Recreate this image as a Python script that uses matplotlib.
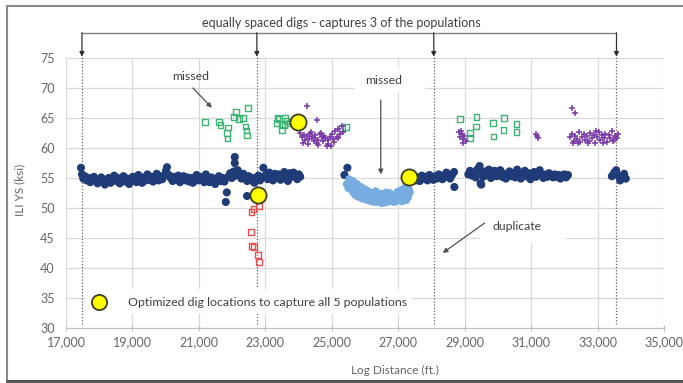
import matplotlib.pyplot as plt
from matplotlib.patches import Rectangle
from matplotlib.ticker import FuncFormatter

plt.rcParams['font.family'] = ['Lato', 'DejaVu Sans']

# dark blue population (main band)
dark_x = [17450, 17480, 17520, 17570, 17620, 17680, 17730, 17790, 17840, 17900,
          17950, 18010, 18060, 18120, 18170, 18230, 18280, 18340, 18400, 18450,
          18510, 18560, 18620, 18670, 18730, 18790, 18840, 18900, 18950, 19010,
          19060, 19120, 19180, 19230, 19290, 19340, 19400, 19450, 19510, 19570,
          19620, 19680, 19730, 19790, 19840, 19900, 19960, 20010, 20040, 20100,
          20150, 20210, 20260, 20320, 20380, 20430, 20490, 20540, 20600, 20650,
          20710, 20770, 20820, 20880, 20930, 20990, 21040, 21100, 21160, 21210,
          21270, 21320, 21380, 21430, 21490, 21550, 21600, 21660, 21710, 21770,
          21810, 21880, 21940, 21990, 22050, 22080, 22080, 22110, 22170, 22220,
          22280, 22340, 22390, 22450, 22450, 22500, 22560, 22620, 22670, 22730,
          22790, 22840, 22900, 22940, 23010, 23070, 23120, 23180, 23230, 23290,
          23350, 23400, 23460, 23510, 23570, 23620, 23680, 23740, 23790, 23850,
          23900, 23960, 24010, 24050, 21840]
dark_y = [56.7, 55.6, 54.9, 55.3, 54.6, 55.0, 54.3, 54.8, 55.2, 54.5,
          54.1, 54.7, 55.1, 54.4, 53.9, 54.6, 55.0, 54.2, 54.8, 55.4,
          54.5, 55.0, 54.1, 54.7, 55.3, 54.4, 54.9, 54.0, 54.6, 55.2,
          54.8, 54.3, 55.5, 54.9, 54.2, 55.1, 54.6, 55.6, 54.7, 55.2,
          54.4, 55.0, 55.7, 54.6, 55.3, 54.8, 55.4, 56.2, 56.8, 55.5,
          55.0, 54.5, 55.2, 54.7, 55.4, 54.3, 54.9, 55.3, 54.6, 55.1,
          54.4, 55.0, 54.2, 54.8, 55.5, 54.6, 55.2, 54.9, 54.3, 55.6,
          54.8, 54.3, 55.1, 54.6, 54.0, 54.7, 55.3, 54.5, 55.0, 54.4,
          51.0, 55.2, 55.8, 55.0, 56.1, 58.5, 57.5, 55.4, 56.3, 55.6,
          54.9, 55.7, 55.1, 52.0, 54.5, 55.3, 54.6, 55.0, 54.2, 54.7,
          55.4, 54.6, 55.1, 56.7, 55.5, 54.8, 55.9, 55.2, 54.6, 55.7,
          55.0, 55.6, 54.7, 55.3, 56.0, 55.1, 54.5, 55.8, 55.2, 55.9,
          55.3, 54.8, 55.6, 55.2, 52.6]

dark2_x = [27430, 27480, 27540, 27600, 27650, 27710, 27770, 27820, 27880, 27940,
           27990, 28050, 28110, 28160, 28220, 28280, 28330, 28390, 28450, 28500,
           28560, 28620, 28680, 28690, 29110, 29160, 29220, 29280, 29330, 29390,
           29450, 29500, 29560, 29620, 29670, 29730, 29790, 29840, 29900, 29960,
           30010, 30070, 30130, 30180, 30240, 30300, 30350, 30410, 30470, 30520,
           30580, 30640, 30690, 30750, 30810, 30860, 30920, 30980, 31030, 31090,
           31150, 31200, 31260, 31320, 31370, 31430, 31490, 31540, 31600, 31660,
           31710, 31770, 31830, 31880, 31940, 32000, 32050, 32110, 33430, 33500,
           33560, 33620, 33680, 33740, 33800, 33850, 29480, 29500, 25380, 25470]
dark2_y = [54.8, 55.3, 54.6, 55.1, 54.5, 55.4, 54.9, 55.2, 54.6, 55.5,
           55.0, 54.7, 55.3, 54.9, 55.6, 55.1, 54.8, 55.4, 55.9, 55.2,
           54.9, 55.5, 56.0, 53.5, 55.6, 56.2, 55.4, 55.9, 55.1, 56.5,
           57.0, 55.8, 55.2, 56.1, 55.5, 56.4, 55.0, 55.7, 56.2, 55.3,
           55.8, 56.3, 55.2, 55.7, 54.9, 55.6, 56.1, 55.3, 55.8, 55.1,
           56.4, 55.5, 54.9, 55.7, 56.2, 55.3, 55.8, 54.8, 55.4, 56.0,
           55.2, 55.7, 56.3, 55.5, 55.0, 55.6, 55.2, 55.8, 55.4, 55.1,
           55.6, 55.2, 55.5, 54.9, 55.4, 55.6, 55.1, 55.5, 55.3, 55.9,
           56.3, 55.4, 54.6, 55.2, 55.7, 54.9, 54.1, 53.9, 55.5, 56.7]

# light blue population
light_x = [25520, 25560, 25600, 25640, 25580, 25680, 25720, 25760, 25640, 25800,
           25840, 25700, 25880, 25920, 25960, 25780, 26000, 26040, 26080, 25900,
           26120, 26160, 26020, 26200, 26240, 26280, 26140, 26320, 26360, 26400,
           26260, 26440, 26480, 26520, 26380, 26560, 26600, 26640, 26500, 26680,
           26720, 26760, 26620, 26800, 26840, 26880, 26740, 26920, 26960, 27000,
           26860, 27040, 27080, 27120, 26980, 27160, 27200, 27240, 27100, 27280,
           27320, 27220, 27350, 27300, 25450, 25500]
light_y = [54.8, 54.2, 53.6, 54.5, 53.1, 53.9, 53.2, 54.0, 52.6, 53.4,
           52.8, 52.2, 53.5, 52.6, 53.2, 51.9, 52.4, 53.0, 52.1, 51.6,
           52.7, 51.9, 51.4, 52.5, 51.7, 52.3, 51.2, 52.8, 51.5, 52.1,
           51.0, 51.6, 52.4, 51.3, 51.0, 52.0, 51.4, 52.6, 50.8, 51.2,
           51.8, 51.1, 50.9, 52.2, 51.5, 51.0, 52.5, 51.7, 51.2, 52.0,
           51.4, 51.6, 52.3, 51.1, 52.7, 51.8, 52.4, 51.3, 53.0, 52.2,
           53.1, 53.5, 52.6, 51.8, 54.0, 53.3]

# green squares
green_x = [21180, 21600, 21650, 21870, 21840, 21860, 22050, 22110, 22200, 22330,
           22400, 22430, 22440, 22480,
           23370, 23350, 23500, 23500, 23640, 23580, 23730, 23420, 23600,
           25300, 25420,
           28850, 29360, 29340, 29160, 29150, 29850, 29870, 30190, 30170, 30560,
           30560]
green_y = [64.3, 64.3, 63.8, 63.4, 62.5, 61.6, 65.2, 66.0, 64.8, 65.0,
           63.6, 62.9, 62.1, 66.7,
           65.0, 64.2, 63.8, 63.0, 64.5, 63.8, 64.2, 64.8, 65.0,
           63.3, 63.5,
           64.8, 65.2, 63.6, 62.5, 61.7, 64.2, 61.9, 65.0, 63.0, 64.0,
           62.7]

# red squares
red_x = [22580, 22640, 22800, 22570, 22600, 22650, 22780, 22800]
red_y = [49.3, 49.8, 50.3, 46.0, 43.7, 43.5, 42.2, 41.0]

# purple plus signs
purple_x = [24050, 24100, 24150, 24200, 24130, 24250, 24300, 24350, 24280, 24400,
            24450, 24380, 24500, 24550, 24480, 24600, 24650, 24580, 24700, 24750,
            24680, 24800, 24850, 24780, 24900, 24950, 24880, 25000, 25050, 24980,
            25100, 25150, 25080, 25200, 25250, 25180, 25300, 25350, 24250, 24550,
            28830, 28870, 28910, 28950, 28990, 29030, 28880, 28960,
            31150, 31200, 31180,
            32180, 32230, 32280, 32330, 32380, 32430, 32480, 32530, 32580, 32630,
            32680, 32730, 32780, 32830, 32880, 32930, 32980, 33030, 33080, 33130,
            33180, 33230, 33280, 33330, 33380, 33430, 33480, 33530, 33580, 33630,
            32250, 32400, 32700, 32950, 33150, 33450, 32220, 32310]
purple_y = [62.5, 61.8, 62.2, 61.3, 60.9, 62.0, 61.5, 62.4, 60.6, 61.9,
            61.2, 62.6, 61.7, 60.8, 62.1, 61.4, 62.3, 60.5, 61.8, 61.1,
            62.5, 61.6, 60.4, 62.0, 61.3, 61.9, 60.7, 62.4, 61.5, 60.3,
            62.8, 61.9, 61.0, 63.2, 62.3, 61.6, 63.6, 62.7, 67.0, 64.7,
            62.6, 61.9, 62.3, 61.5, 62.0, 61.2, 62.9, 60.9,
            62.4, 61.7, 62.0,
            61.8, 62.4, 61.2, 62.0, 61.5, 62.6, 61.0, 61.9, 62.3, 61.4,
            62.0, 61.1, 62.5, 61.7, 62.2, 60.9, 61.8, 62.7, 61.3, 62.1,
            61.6, 62.4, 61.0, 62.2, 61.7, 62.8, 61.4, 62.0, 61.6, 62.3,
            60.8, 60.9, 60.8, 62.9, 60.9, 61.1, 66.7, 65.8]

# optimized dig locations
opt_x = [22780, 23980, 27320]
opt_y = [52.2, 64.3, 55.2]

# equally spaced digs
digs_x = [17480, 22745, 28070, 33570]

fig = plt.figure(figsize=(6.83, 3.83), dpi=100)
ax = fig.add_axes([66 / 683, 1 - 328 / 383, 598 / 683, 270 / 383])

ax.set_xlim(17000, 35000)
ax.set_ylim(30, 75)
ax.set_xticks(range(17000, 35001, 2000))
ax.set_yticks(range(30, 76, 5))
ax.xaxis.set_major_formatter(FuncFormatter(lambda v, p: f'{int(v):,}'))
ax.grid(True, color='#d9d9d9', linewidth=0.9, zorder=0)
ax.set_axisbelow(True)
for s in ['top', 'right', 'left']:
    ax.spines[s].set_visible(False)
ax.spines['bottom'].set_color('#bfbfbf')
ax.tick_params(axis='x', direction='inout', length=4, color='#bfbfbf',
               labelsize=9, labelcolor='#666666', pad=4)
ax.tick_params(axis='y', length=0, labelsize=9, labelcolor='#666666', pad=8)

# dotted lines for the equally spaced digs
for dx in digs_x:
    ax.plot([dx, dx], [30.6, 75.4], linestyle=(0, (1, 1.5)), color='#606060',
            linewidth=0.9, zorder=1.2, clip_on=False)

# white label boxes hiding gridlines
boxes = [(25690, 69.3, 2110, 4.2), (29450, 44.2, 2560, 5.5),
         (17560, 32.3, 9860, 4.2), (20550, 70.3, 400, 3.3)]
for bx, by, bw, bh in boxes:
    ax.add_patch(Rectangle((bx, by), bw, bh, facecolor='white', edgecolor='none', zorder=1.5))

ax.scatter(dark_x, dark_y, s=34, color='#1f3c78', edgecolors='none', zorder=3)
ax.scatter(dark2_x, dark2_y, s=34, color='#1f3c78', edgecolors='none', zorder=3)
ax.scatter(light_x, light_y, s=32, color='#76acdf', edgecolors='none', zorder=3)
ax.scatter(green_x, green_y, s=17, marker='s', facecolors='none',
           edgecolors='#3cb474', linewidths=1.0, zorder=3)
ax.scatter(red_x, red_y, s=17, marker='s', facecolors='none',
           edgecolors='#e35050', linewidths=1.0, zorder=3)
ax.scatter(purple_x, purple_y, s=14, marker='+', color='#7a3aa8',
           linewidths=1.1, zorder=3)
ax.scatter(opt_x, opt_y, s=135, color='#ffff00', edgecolors='#3d3d20',
           linewidths=1.3, zorder=4)

# legend-like note
ax.scatter([17990], [34.3], s=120, color='#ffff00', edgecolors='#3d3d20',
           linewidths=1.3, zorder=4)
ax.text(18865, 34.3, 'Optimized dig locations to capture all 5 populations',
        fontsize=8.9, color='#404040', va='center', ha='left', zorder=5)

# bracket on top
top_y = 79.2
ax.plot([digs_x[0], digs_x[-1]], [top_y, top_y], color='#808080', linewidth=1,
        clip_on=False)
for dx in digs_x:
    ax.annotate('', xy=(dx, 75.2), xytext=(dx, top_y), annotation_clip=False,
                arrowprops=dict(arrowstyle='-|>', color='#303030', lw=0.9,
                                mutation_scale=7, shrinkA=0, shrinkB=0))
ax.text(25300, 80.8, 'equally spaced digs - captures 3 of the populations',
        fontsize=9, color='#404040', ha='center', va='center')

arrow = dict(arrowstyle='-|>', color='#505050', lw=0.9, mutation_scale=7,
             shrinkA=0, shrinkB=0)
ax.text(20760, 72.0, 'missed', fontsize=8.8, color='#404040', ha='center', va='center', zorder=5)
ax.annotate('', xy=(21390, 66.7), xytext=(20820, 70.0), arrowprops=arrow, zorder=5)
ax.text(26565, 71.2, 'missed', fontsize=8.8, color='#404040', ha='center', va='center', zorder=5)
ax.annotate('', xy=(26475, 55.6), xytext=(26475, 68.0), arrowprops=arrow, zorder=5)
ax.text(30570, 47.0, 'duplicate', fontsize=8.8, color='#404040', ha='center', va='center', zorder=5)
ax.annotate('', xy=(28340, 42.5), xytext=(29600, 47.5), arrowprops=arrow, zorder=5)

fig.text(20 / 683, 1 - 190 / 383, 'ILI YS (ksi)', rotation=90, fontsize=8.5,
         color='#666666', ha='center', va='center')
fig.text(395 / 683, 1 - 370 / 383, 'Log Distance (ft.)', fontsize=8.5,
         color='#666666', ha='center', va='center')

# outer chart frame
fig.patches.append(Rectangle((7 / 683, 2 / 383), 1.0, 375 / 383, transform=fig.transFigure,
                             fill=False, edgecolor='#8a8a8a', linewidth=1.5))
fig.lines.append(plt.Line2D([7 / 683, 1], [2 / 383, 2 / 383], transform=fig.transFigure,
                            color='#505050', linewidth=2))

fig.savefig('out.png', dpi=100)
